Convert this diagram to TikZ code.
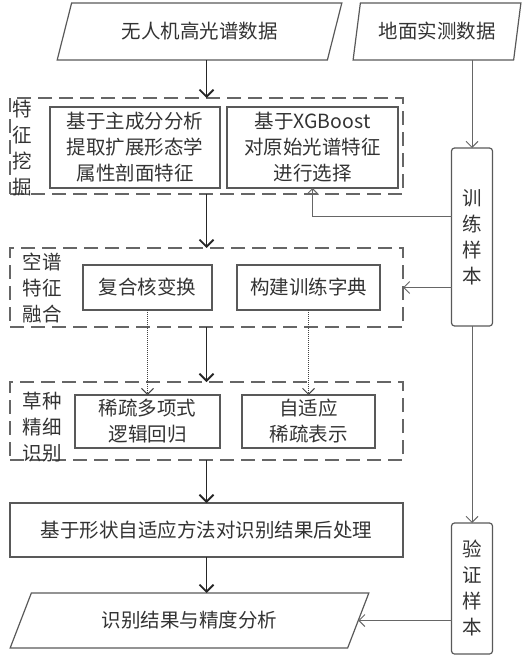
\documentclass[tikz,border=0pt]{standalone}
\usepackage{fontspec}
\newfontfamily\cjk{Noto Sans CJK SC}
\usetikzlibrary{shapes.geometric, arrows.meta}

\begin{document}
\begin{tikzpicture}[x=1pt, y=-1pt,
    every node/.style={font=\cjk\fontsize{19.5}{26}\selectfont, text=black!80, align=center, inner sep=0pt, outer sep=0pt},
    box/.style={draw=black!65, line width=1.2pt},
    group/.style={draw=black!60, line width=1.2pt, dash pattern=on 14pt off 7pt, minimum width=393},
    sample/.style={box, rounded corners=3pt, minimum width=41},
    data/.style={box, trapezium, trapezium stretches=true, minimum height=57},
    main/.style={-{Straight Barb[length=7pt,width=14pt]}, line width=1.8pt, black!85},
    thin/.style={-{Straight Barb[length=6pt,width=12pt]}, line width=1pt, black!60}]
    \useasboundingbox (0,0) rectangle (525,658);

    % inputs
    \node[data, trapezium left angle=64, trapezium right angle=116, minimum width=285] (uav) at (199.5,31.5) {无人机高光谱数据};
    \node[data, trapezium left angle=73, trapezium right angle=107, minimum width=168] (ground) at (437,31.5) {地面实测数据};

    % feature mining
    \node[group, minimum height=96] (mine) at (206.5,146) {};
    \node (mineLbl) at (22,148) {特\\征\\挖\\掘};
    \node[box, minimum width=170, minimum height=81] (emap) at (135,147.5) {基于主成分分析\\提取扩展形态学\\属性剖面特征};
    \node[box, minimum width=171, minimum height=81] (xgb) at (312.5,147.5) {基于XGBoost\\对原始光谱特征\\进行选择};

    % fusion
    \node[group, minimum height=79] (fuse) at (206.5,287.5) {};
    \node (fuseLbl) at (42,288) {空谱\\特征\\融合};
    \node[box, minimum width=129, minimum height=45] (kernel) at (147.5,287.5) {复合核变换};
    \node[box, minimum width=143, minimum height=45] (dict) at (308.5,287.5) {构建训练字典};

    % classification
    \node[group, minimum height=78] (recog) at (206.5,421) {};
    \node (recogLbl) at (42,427) {草种\\精细\\识别};
    \node[box, minimum width=145, minimum height=53] (mlr) at (147.5,421.5) {稀疏多项式\\逻辑回归};
    \node[box, minimum width=133, minimum height=53] (sparse) at (308.5,421.5) {自适应\\稀疏表示};

    % post processing and output
    \node[box, minimum width=393, minimum height=54] (post) at (206.5,530) {基于形状自适应方法对识别结果后处理};
    \node[data, trapezium left angle=57, trapezium right angle=123, minimum width=359, minimum height=55] (out) at (189.5,620.5) {识别结果与精度分析};

    % samples
    \node[sample, minimum height=178] (train) at (472,237) {训\\练\\样\\本};
    \node[sample, minimum height=131] (val) at (472,588.5) {验\\证\\样\\本};

    \draw[main] (uav.south -| mine.north) -- (mine.north);
    \foreach \a/\b in {mine/fuse, fuse/recog, recog/post} {
        \draw[main] (\a.south) -- (\b.north);
    }
    \draw[main] (post.south) -- (post.south |- out.north);
    \draw[thin, black!75, densely dotted] (kernel) -- (mlr);
    \draw[thin, black!75, densely dotted] (dict) -- (sparse);

    \draw[thin] (ground.south -| train.north) -- (train.north);
    \draw[thin] (train.west |- 0,216) -| (xgb.south);
    \draw[thin] (train.west |- fuse.east) -- (fuse.east);
    \draw[thin] (train) -- (val);
    \draw[thin] (val.west |- out.east) -- (out.east);
\end{tikzpicture}
\end{document}
